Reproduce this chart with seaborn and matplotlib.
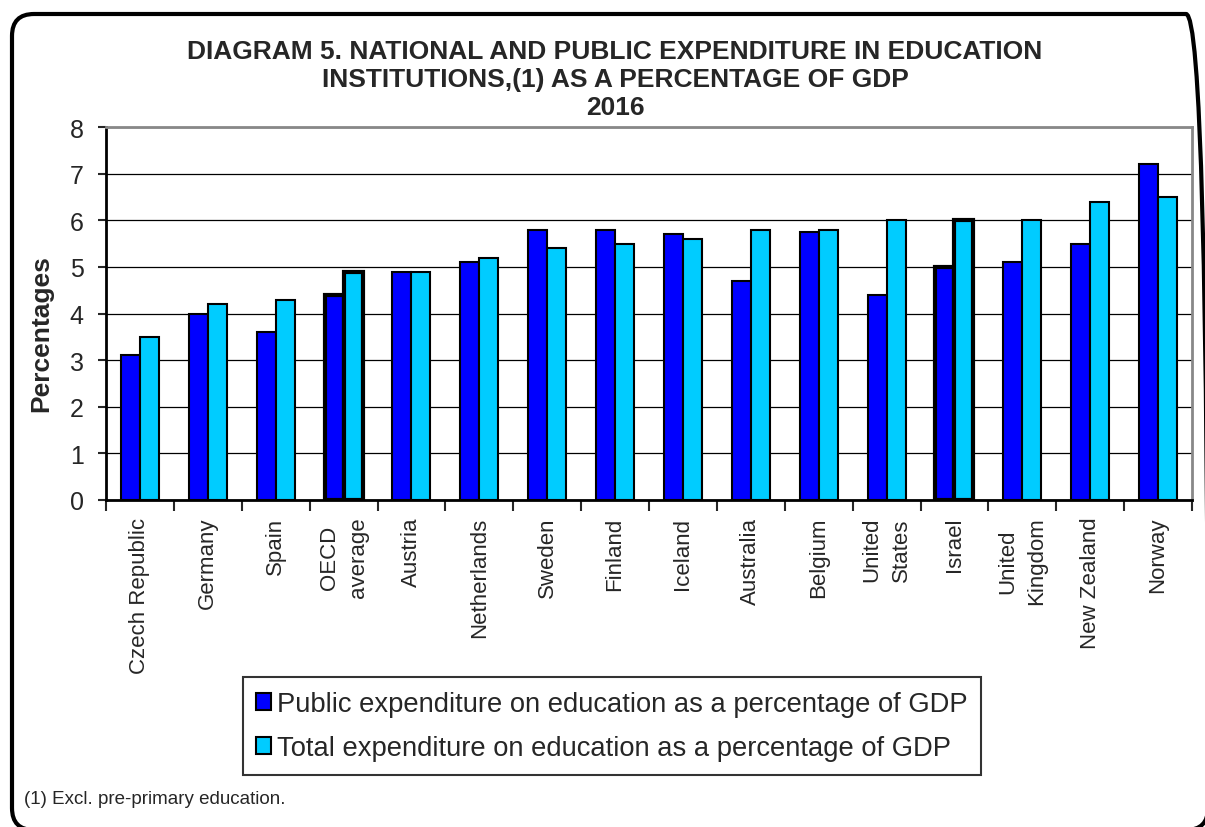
import pandas as pd
import matplotlib.pyplot as plt
import seaborn as sns
from matplotlib.patches import FancyBboxPatch
from matplotlib.ticker import FixedLocator

#data:
countries = ['Czech Republic', 'Germany', 'Spain', 'OECD\naverage', 'Austria',
             'Netherlands', 'Sweden', 'Finland', 'Iceland', 'Australia',
             'Belgium', 'United\nStates', 'Israel', 'United\nKingdom',
             'New Zealand', 'Norway']
public_exp = [3.1, 4.0, 3.6, 4.4, 4.9, 5.1, 5.8, 5.8, 5.7, 4.7, 5.75, 4.4, 5.0, 5.1, 5.5, 7.2]
total_exp = [3.5, 4.2, 4.3, 4.9, 4.9, 5.2, 5.4, 5.5, 5.6, 5.8, 5.8, 6.0, 6.0, 6.0, 6.4, 6.5]
series = ['Public expenditure on education as a percentage of GDP',
          'Total expenditure on education as a percentage of GDP']
highlight = ['OECD\naverage', 'Israel']

#long table for seaborn:
df = pd.DataFrame({
    'country': countries * 2,
    'value': public_exp + total_exp,
    'series': [series[0]] * len(countries) + [series[1]] * len(countries),
})

sns.set_style('white')
plt.rcParams['font.family'] = ['Liberation Sans', 'DejaVu Sans']

fig = plt.figure(figsize=(12.05, 8.28), dpi=100)
ax = fig.add_axes([106 / 1205, 1 - 501 / 828, 1086 / 1205, 373 / 828])

sns.barplot(data=df, x='country', y='value', hue='series', order=countries,
            hue_order=series, palette=['#0000FF', '#00CCFF'], width=0.56,
            edgecolor='black', linewidth=1.5, saturation=1, ax=ax)

#thicker outline for OECD average and Israel
for cont in ax.containers:
    for name, bar in zip(countries, cont):
        if name in highlight:
            bar.set_linewidth(3)

ax.set_xlim(-0.5, len(countries) - 0.5)
ax.set_ylim(0, 8)
ax.set_yticks(range(0, 9))
ax.yaxis.grid(True, color='black', linewidth=0.9)
ax.set_axisbelow(True)

for s in ['left', 'bottom']:
    ax.spines[s].set_color('black')
    ax.spines[s].set_linewidth(2)
for s in ['top', 'right']:
    ax.spines[s].set_color('#888888')
    ax.spines[s].set_linewidth(2)

ax.tick_params(axis='y', labelsize=18, length=6, width=1.5, direction='out', left=True, pad=10)
ax.tick_params(axis='x', which='major', length=0, labelsize=16, labelrotation=90, pad=12)
ax.xaxis.set_minor_locator(FixedLocator([i - 0.5 for i in range(len(countries) + 1)]))
ax.tick_params(axis='x', which='minor', length=8, width=1.5, direction='out', bottom=True)
for lab in ax.get_xticklabels():
    lab.set_verticalalignment('top')
    lab.set_horizontalalignment('center')
    lab.set_multialignment('center')
    lab.set_linespacing(1.5)

ax.set_xlabel('')
ax.set_ylabel('Percentages', fontsize=19, fontweight='bold')
ax.yaxis.set_label_coords(-0.049, 0.45)

ax.legend(loc='center', bbox_to_anchor=(612 / 1205, 1 - 727 / 828),
          bbox_transform=fig.transFigure, fontsize=19.7, frameon=True,
          fancybox=False, edgecolor='black', handlelength=0.55, handleheight=0.6,
          handletextpad=0.2, borderpad=0.5, labelspacing=0.65)
ax.get_legend().get_frame().set_linewidth(1.5)

fig.text(615 / 1205, 1 - 40 / 828,
         'DIAGRAM 5. NATIONAL AND PUBLIC EXPENDITURE IN EDUCATION\nINSTITUTIONS,(1) AS A PERCENTAGE OF GDP\n2016',
         ha='center', va='top', fontsize=19, fontweight='bold', linespacing=1.22)
fig.text(24 / 1205, 1 - 800 / 828, '(1) Excl. pre-primary education.',
         ha='left', va='center', fontsize=13.5)

#rounded frame around the whole chart (inches), right and bottom edges run off the image
frame = FancyBboxPatch((0.12, -0.03), 11.96, 8.16,
                       boxstyle='round,pad=0,rounding_size=0.22',
                       transform=fig.dpi_scale_trans, fill=False,
                       edgecolor='black', linewidth=3, clip_on=False)
fig.patches.append(frame)

plt.savefig('out.png', dpi=100)
